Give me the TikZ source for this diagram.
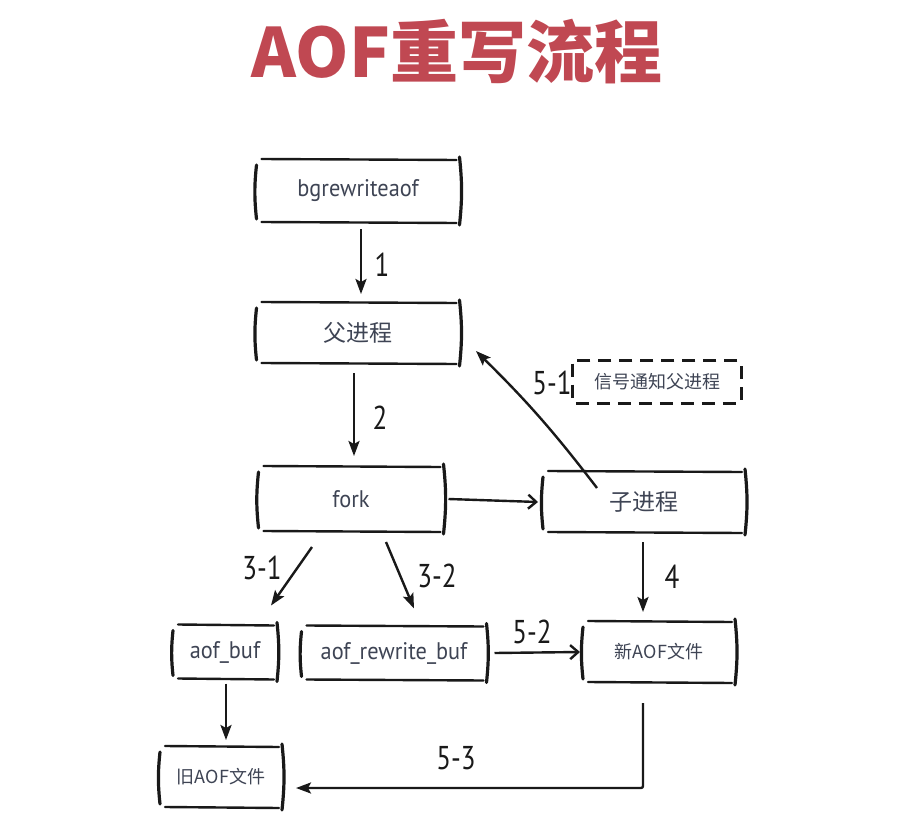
\documentclass[tikz,border=0pt]{standalone}
\usepackage{fontspec}
\setmainfont{PT Sans}
\newfontfamily\labfont{PT Sans}[FakeStretch=0.82]
\newfontfamily\boxfont{PT Sans}[FakeStretch=0.93]
\newfontfamily\cjk{Noto Sans CJK SC}
\usetikzlibrary{arrows.meta}
\definecolor{titlered}{RGB}{192,72,82}
\definecolor{boxtext}{RGB}{62,68,84}
\definecolor{ink}{RGB}{25,25,25}
\tikzset{
 skh/.style={draw=ink, line width=2.4pt, line cap=round},
 skv/.style={draw=ink, line width=3.2pt, line cap=round},
 bx/.style={inner sep=0pt, outer sep=0pt, text=boxtext, font=\boxfont\fontsize{24}{28}\selectfont},
 cjkbx/.style={bx, font=\cjk\fontsize{23}{26}\selectfont},
 lab/.style={text=ink, font=\labfont\fontsize{33}{36}\selectfont},
 arr/.style={draw=ink, line width=2.4pt, -{Stealth[length=15pt,width=11pt,inset=3pt]}},
 oarr/.style={draw=ink, line width=2.4pt, -{Straight Barb[length=8pt,width=14pt,line width=2.4pt]}},
 dbox/.style={draw=ink, line width=2.6pt, dash pattern=on 13pt off 8pt, rounded corners=3pt},
}
\newcommand\skbox[1]{%
 \draw[skh] ([xshift=5pt,yshift=1pt]#1.north west) -- ([xshift=-3pt]#1.north east);
 \draw[skh] ([xshift=5pt]#1.south west) -- ([xshift=-3pt,yshift=-1pt]#1.south east);
 \draw[skv] ([yshift=-5pt]#1.north west) to[bend right=6] ([yshift=3pt]#1.south west);
 \draw[skv] ([yshift=3pt]#1.north east) to[bend left=6] ([yshift=-3pt]#1.south east);
}
\begin{document}
\begin{tikzpicture}[x=1pt,y=-1pt]
\useasboundingbox[fill=white] (0,0) rectangle (916,832);
\node[text=titlered, font=\cjk\bfseries\fontsize{68}{70}\selectfont] (title) at (457,52) {AOF重写流程};

\node[bx, minimum width=203pt, minimum height=62pt] (bg) at (358,191) {bgrewriteaof};
\node[cjkbx, minimum width=203pt, minimum height=60pt] (fu) at (358,333) {父进程};
\node[cjkbx, font=\cjk\fontsize{18}{20}\selectfont, minimum width=169pt, minimum height=43pt] (sig) at (657,382) {信号通知父进程};
\node[bx, minimum width=185pt, minimum height=64pt] (fork) at (351,499) {fork};
\node[cjkbx, minimum width=202pt, minimum height=60pt] (child) at (644,502) {子进程};
\node[bx, minimum width=104pt, minimum height=53pt] (abuf) at (225,652) {aof\_buf};
\node[bx, minimum width=185pt, minimum height=53pt] (rbuf) at (394,653) {aof\_rewrite\_buf};
\node[cjkbx, font=\cjk\fontsize{18}{20}\selectfont, minimum width=152pt, minimum height=60pt] (new) at (659,652) {新AOF文件};
\node[cjkbx, font=\cjk\fontsize{18}{20}\selectfont, minimum width=122pt, minimum height=60pt] (old) at (221,777) {旧AOF文件};

\skbox{bg}\skbox{fu}\skbox{fork}\skbox{child}\skbox{abuf}\skbox{rbuf}\skbox{new}\skbox{old}
\draw[dbox] (sig.north west) rectangle (sig.south east);

% arrows
\draw[arr] ([xshift=3pt,yshift=-7pt]bg.south) -- ([xshift=3pt,yshift=9pt]fu.north);
\draw[arr] ([xshift=-4pt,yshift=-10pt]fu.south) -- ([xshift=3pt,yshift=11pt]fork.north);
\draw[oarr] ([xshift=5pt]fork.east) -- ([xshift=-5pt]child.west);
\draw[arr] ([xshift=-39pt,yshift=-16pt]fork.south) -- ([xshift=46pt,yshift=20pt]abuf.north);
\draw[arr] ([xshift=35pt,yshift=-11pt]fork.south) -- ([xshift=20pt,yshift=18pt]rbuf.north);
\draw[arr] ([xshift=-1pt,yshift=-10pt]child.south) -- ([xshift=-16pt,yshift=10pt]new.north);
\draw[arr] ([xshift=-47pt,yshift=-16pt]child.north) to[bend right=4] ([xshift=118pt,yshift=-48pt]fu.north);
\draw[oarr] ([xshift=8pt]rbuf.east) -- ([xshift=-3pt]new.west);
\draw[arr] ([xshift=1pt,yshift=-5pt]abuf.south) -- ([xshift=5pt,yshift=7pt]old.north);
\draw[arr, rounded corners=2pt] ([xshift=-16pt,yshift=-21pt]new.south) |- ([xshift=14pt,yshift=-11pt]old.east);

% labels
\node[lab] (l1) at (382,265) {1};
\node[lab] (l2) at (380,418) {2};
\node[lab] (l31) at (262,568) {3-1};
\node[lab] (l32) at (437,576) {3-2};
\node[lab] (l4) at (672,577) {4};
\node[lab] (l51) at (552,383) {5-1};
\node[lab] (l52) at (532,632) {5-2};
\node[lab] (l53) at (456,758) {5-3};
\end{tikzpicture}
\end{document}
